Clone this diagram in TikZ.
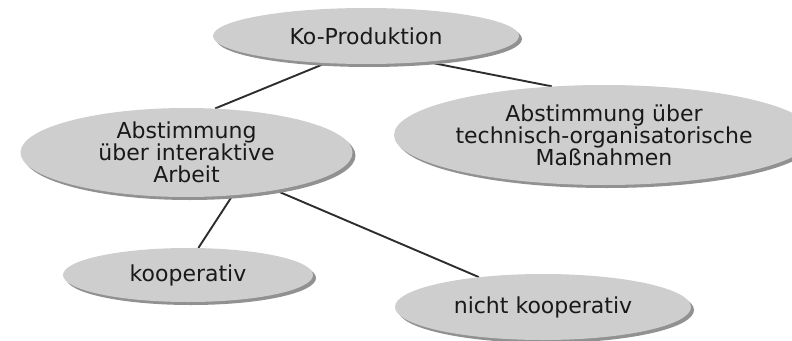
\documentclass[tikz,border=0pt]{standalone}
\usepackage{fontspec}
\setmainfont{DejaVu Sans}
\usetikzlibrary{shapes.geometric,shadows,backgrounds}
\definecolor{ellfill}{RGB}{206,206,206}
\definecolor{ellshadow}{RGB}{145,145,145}
\definecolor{linecol}{RGB}{45,45,45}
\tikzset{
  bubble/.style={ellipse, fill=ellfill, inner sep=0pt, align=center,
    font=\fontsize{22}{22}\selectfont, text=black!90,
    drop shadow={shadow xshift=3pt, shadow yshift=-3pt, fill=ellshadow, opacity=1}},
  link/.style={draw=linecol, line width=1.9pt}
}
\begin{document}
\begin{tikzpicture}[x=1pt,y=-1pt]
\useasboundingbox (0,0) rectangle (792,340);
\clip (0,0) rectangle (792,340);
\node[bubble, minimum width=306pt, minimum height=56pt] (ko) at (366,36) {Ko-Produktion};
\node[bubble, minimum width=332pt, minimum height=89pt] (inter) at (186.5,152.5) {Abstimmung\\über interaktive\\Arbeit};
\node[bubble, minimum width=366pt, minimum height=100pt] (tech) at (604,135) {Abstimmung über\\technisch-organisatorische\\Maßnahmen};
\node[bubble, minimum width=250pt, minimum height=54pt] (koop) at (188,275) {kooperativ};
\node[bubble, minimum width=296pt, minimum height=66pt] (nkoop) at (543,307) {nicht kooperativ};
\begin{scope}[on background layer]
\draw[link] (ko.214.8) -- (inter.57);
\draw[link] (ko.337.2) -- (tech.137.9);
\draw[link] (inter.317.4) -- (koop.69.7);
\draw[link] (inter.337.6) -- (nkoop.155.1);
\end{scope}
\end{tikzpicture}
\end{document}
